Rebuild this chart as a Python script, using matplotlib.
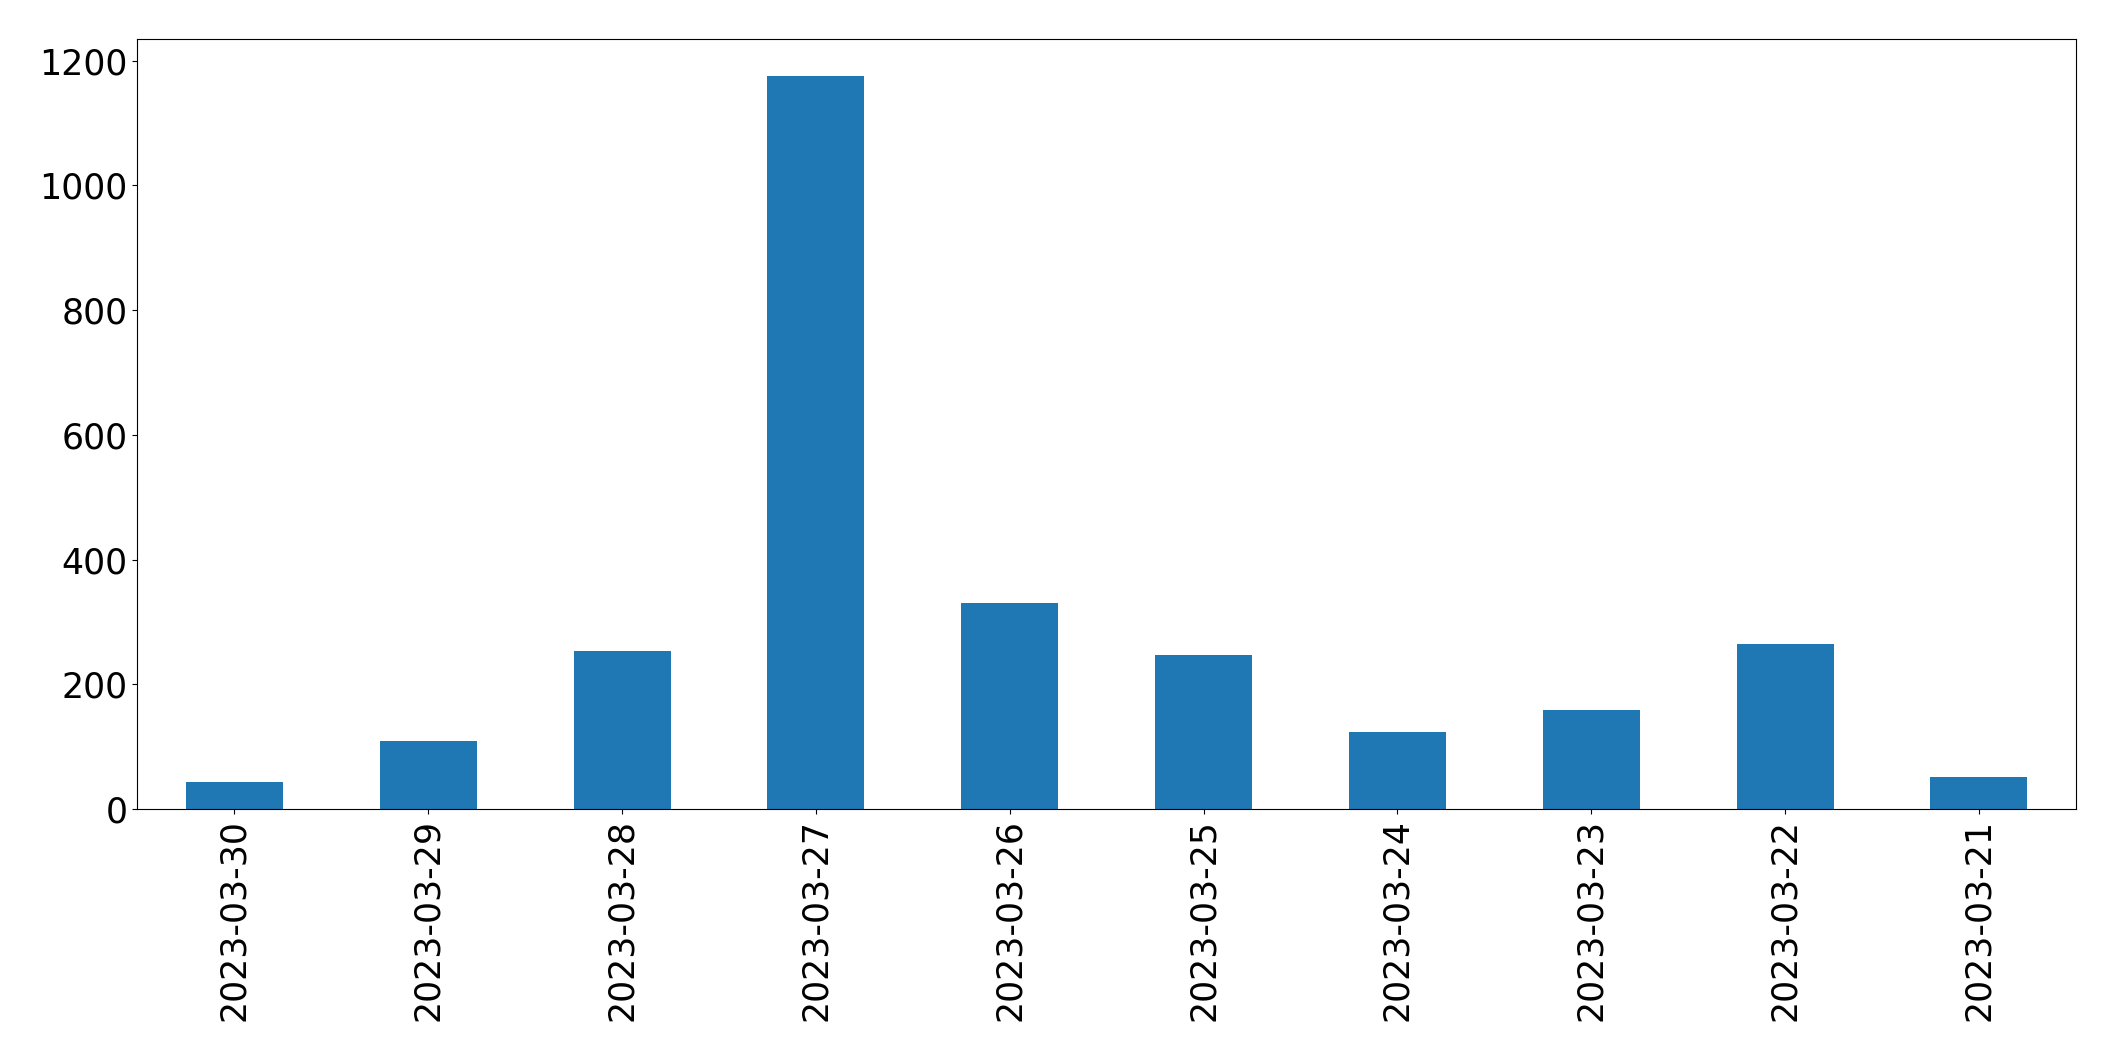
import matplotlib
matplotlib.use("Agg")
import matplotlib.pyplot as plt
import numpy as np

# daily counts, newest first
dates = ["2023-03-30", "2023-03-29", "2023-03-28", "2023-03-27", "2023-03-26",
         "2023-03-25", "2023-03-24", "2023-03-23", "2023-03-22", "2023-03-21"]
counts = [44, 109, 254, 1176, 330, 247, 124, 159, 265, 51]

fig = plt.figure(figsize=(21.15, 10.61), dpi=100)
ax = fig.add_axes([0.065, 0.2375, 0.9165, 0.7257])

x = np.arange(len(dates))
ax.bar(x, counts, width=0.5, color="#1f77b4")
ax.set_xlim(-0.5, len(dates) - 0.5)
ax.set_xticks(x)
ax.set_xticklabels(dates, rotation=90, fontsize=25)
ax.tick_params(axis="y", labelsize=25)

plt.savefig("out.png", dpi=100)
